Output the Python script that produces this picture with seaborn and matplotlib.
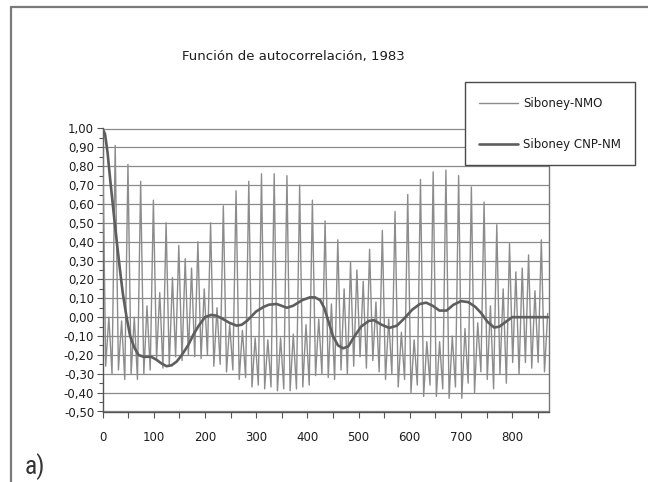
import matplotlib
matplotlib.use("Agg")
import matplotlib.pyplot as plt
from matplotlib.lines import Line2D
from matplotlib.ticker import MultipleLocator, FuncFormatter
import numpy as np
import pandas as pd
import seaborn as sns

title = "Función de autocorrelación, 1983"
series_names = ["Siboney-NMO", "Siboney CNP-NM"]
panel_label = "a)"

# Siboney-NMO: local maxima and minima of the autocorrelation (lag in hours)
peak_lag = [0, 12.4, 24.8, 37.3, 49.7, 62.1, 74.5, 86.9, 99.4, 111.8,
            124.2, 136.6, 149.0, 161.5, 173.9, 186.3, 198.7, 211.1, 223.6, 236.0,
            248.4, 260.8, 273.2, 285.7, 298.1, 310.5, 322.9, 335.3, 347.8, 360.2,
            372.6, 385.0, 397.4, 409.9, 422.3, 434.7, 447.1, 459.5, 471.9, 484.4,
            496.8, 509.2, 521.6, 534.0, 546.5, 558.9, 571.3, 583.7, 596.1, 608.6,
            621.0, 633.4, 645.8, 658.3, 670.7, 683.1, 695.5, 707.9, 720.4, 732.8,
            745.2, 757.6, 770.0, 782.5, 794.9, 807.3, 819.7, 832.1, 844.6, 857.0,
            869.4]
peak_acf = [1.00, 0.00, 0.91, -0.02, 0.81, 0.00, 0.72, 0.06, 0.62, 0.13,
            0.50, 0.21, 0.38, 0.31, 0.26, 0.40, 0.15, 0.50, 0.05, 0.59,
            -0.04, 0.67, -0.07, 0.72, -0.11, 0.76, -0.12, 0.76, -0.11, 0.75,
            -0.09, 0.70, -0.04, 0.62, -0.01, 0.51, 0.07, 0.41, 0.15, 0.29,
            0.25, 0.19, 0.36, 0.08, 0.46, -0.01, 0.56, -0.08, 0.65, -0.12,
            0.73, -0.13, 0.77, -0.13, 0.78, -0.10, 0.75, -0.06, 0.69, -0.03,
            0.61, 0.06, 0.49, 0.15, 0.39, 0.24, 0.26, 0.33, 0.14, 0.41,
            0.02]
trough_lag = [6.2, 18.6, 31.1, 43.5, 55.9, 68.3, 80.7, 93.2, 105.6, 118.0,
              130.4, 142.8, 155.3, 167.7, 180.1, 192.5, 204.9, 217.4, 229.8, 242.2,
              254.6, 267.0, 279.5, 291.9, 304.3, 316.7, 329.1, 341.6, 354.0, 366.4,
              378.8, 391.2, 403.7, 416.1, 428.5, 440.9, 453.3, 465.8, 478.2, 490.6,
              503.0, 515.4, 527.9, 540.3, 552.7, 565.1, 577.5, 590.0, 602.4, 614.8,
              627.2, 639.6, 652.0, 664.5, 676.9, 689.3, 701.7, 714.1, 726.6, 739.0,
              751.4, 763.8, 776.2, 788.7, 801.1, 813.5, 825.9, 838.3, 850.8, 863.2]
trough_acf = [-0.26, -0.30, -0.28, -0.33, -0.30, -0.33, -0.30, -0.28, -0.22, -0.27,
              -0.26, -0.21, -0.23, -0.20, -0.21, -0.22, -0.20, -0.26, -0.25, -0.29,
              -0.28, -0.33, -0.32, -0.37, -0.36, -0.38, -0.37, -0.39, -0.38, -0.39,
              -0.38, -0.37, -0.36, -0.31, -0.30, -0.32, -0.33, -0.28, -0.30, -0.26,
              -0.21, -0.27, -0.23, -0.29, -0.33, -0.30, -0.37, -0.33, -0.40, -0.36,
              -0.42, -0.36, -0.42, -0.38, -0.43, -0.37, -0.43, -0.35, -0.40, -0.29,
              -0.33, -0.38, -0.30, -0.35, -0.24, -0.30, -0.24, -0.27, -0.24, -0.29]

# Siboney CNP-NM: smooth autocorrelation
cnp_lag = [0, 5, 10, 15, 20, 25, 30, 35, 40, 47,
           54, 62, 70, 80, 95, 105, 115, 125, 135, 145,
           155, 167, 178, 188, 200, 212, 222, 232, 248, 262,
           272, 282, 300, 315, 325, 340, 350, 360, 372, 390,
           405, 415, 425, 433, 441, 450, 460, 470, 480, 490,
           505, 520, 530, 545, 560, 575, 590, 605, 620, 632,
           645, 658, 672, 685, 700, 714, 728, 740, 752, 765,
           775, 790, 800, 870]
cnp_acf = [1.00, 0.97, 0.87, 0.73, 0.60, 0.47, 0.35, 0.23, 0.12, 0.00,
           -0.10, -0.16, -0.20, -0.21, -0.21, -0.225, -0.245, -0.26, -0.255, -0.235,
           -0.20, -0.15, -0.09, -0.045, 0.00, 0.012, 0.008, -0.005, -0.03, -0.045,
           -0.04, -0.02, 0.03, 0.055, 0.066, 0.07, 0.06, 0.05, 0.06, 0.09,
           0.105, 0.105, 0.09, 0.05, -0.02, -0.10, -0.15, -0.165, -0.155, -0.11,
           -0.05, -0.02, -0.016, -0.04, -0.057, -0.045, -0.005, 0.04, 0.07, 0.077,
           0.06, 0.035, 0.035, 0.065, 0.085, 0.08, 0.055, 0.02, -0.025, -0.055,
           -0.05, -0.02, 0.00, 0.00]

x_major = [0, 100, 200, 300, 400, 500, 600, 700, 800]
y_min, y_max = -0.5, 1.0
x_max = 872

nmo = pd.DataFrame({"lag": peak_lag + trough_lag, "acf": peak_acf + trough_acf})
nmo = nmo.sort_values("lag").reset_index(drop=True)
cnp = pd.DataFrame({"lag": cnp_lag, "acf": cnp_acf})

sns.set_theme(style="white")
plt.rcParams["font.family"] = ["DejaVu Sans"]

W, H = 648, 482
fig = plt.figure(figsize=(W / 100, H / 100), dpi=100)
fig.patch.set_facecolor("white")

ax_l, ax_r, ax_t, ax_b = 102.5, 549, 128.5, 411.5
ax = fig.add_axes([ax_l / W, 1 - ax_b / H, (ax_r - ax_l) / W, (ax_b - ax_t) / H])

nmo_color = "#8c8c8c"
cnp_color = "#5e5e5e"
text_color = "#1e1e1e"

sns.lineplot(data=nmo, x="lag", y="acf", ax=ax, color=nmo_color,
             linewidth=1.0, estimator=None, zorder=3)
sns.lineplot(data=cnp, x="lag", y="acf", ax=ax, color=cnp_color,
             linewidth=1.9, estimator=None, zorder=4)

ax.set_xlim(0, x_max)
ax.set_ylim(y_min, y_max)
ax.set_xlabel("")
ax.set_ylabel("")

ax.set_xticks(x_major)
ax.xaxis.set_minor_locator(MultipleLocator(50))
ax.yaxis.set_major_locator(MultipleLocator(0.1))
ax.yaxis.set_minor_locator(MultipleLocator(0.05))


def comma_fmt(v, _pos):
    if abs(v) < 1e-9:
        v = 0.0
    return f"{v:.2f}".replace(".", ",")


ax.yaxis.set_major_formatter(FuncFormatter(comma_fmt))
ax.tick_params(axis="y", which="major", direction="out", length=4, width=0.8,
               color="#555555", labelsize=8.5, pad=2, labelcolor=text_color, left=True)
ax.tick_params(axis="y", which="minor", direction="out", length=3, width=0.8,
               color="#555555", left=True)
ax.tick_params(axis="x", which="major", direction="out", length=4, width=0.8,
               color="#555555", labelsize=8.5, pad=10, labelcolor=text_color, bottom=True)
ax.tick_params(axis="x", which="minor", direction="out", length=4, width=0.8,
               color="#555555", bottom=True)

ax.yaxis.grid(True, which="major", color="#8a8a8a", linewidth=0.9)
ax.xaxis.grid(False)
ax.set_axisbelow(True)

for side in ["left", "bottom"]:
    ax.spines[side].set_color("#555555")
    ax.spines[side].set_linewidth(1.0)
ax.spines["right"].set_color("#777777")
ax.spines["right"].set_linewidth(1.0)
ax.spines["top"].set_color("#8a8a8a")
ax.spines["top"].set_linewidth(0.9)

handles = [Line2D([], [], color=nmo_color, linewidth=1.0),
           Line2D([], [], color=cnp_color, linewidth=1.9)]
leg = ax.legend(handles, series_names, loc="upper left",
                bbox_to_anchor=(465 / W, 1 - 82.5 / H), bbox_transform=fig.transFigure,
                frameon=True, fancybox=False, framealpha=1.0, edgecolor="#4a4a4a",
                borderpad=1.2, labelspacing=2.4, handlelength=3.3, handletextpad=0.42,
                borderaxespad=0, prop={"size": 8.5})
leg.get_frame().set_linewidth(1.0)
for t in leg.get_texts():
    t.set_color(text_color)
leg.set_zorder(10)

fig.text(293 / W, 1 - 60 / H, title, ha="center", va="baseline",
         fontsize=9.5, color=text_color)

fig.text(25 / W, 1 - 474 / H, panel_label, ha="left", va="baseline",
         fontsize=18.5, color="#333333",
         family=["Liberation Sans Narrow", "Roboto Condensed", "DejaVu Sans"])

# outer chart frame
fig.add_artist(Line2D([10.5 / W, 10.5 / W], [0, 1 - 7 / H], transform=fig.transFigure,
                      color="#7a7a7a", linewidth=1.6))
fig.add_artist(Line2D([10.5 / W, 1], [1 - 7 / H, 1 - 7 / H], transform=fig.transFigure,
                      color="#7a7a7a", linewidth=1.6))

fig.savefig("out.png", dpi=100, facecolor="white")
